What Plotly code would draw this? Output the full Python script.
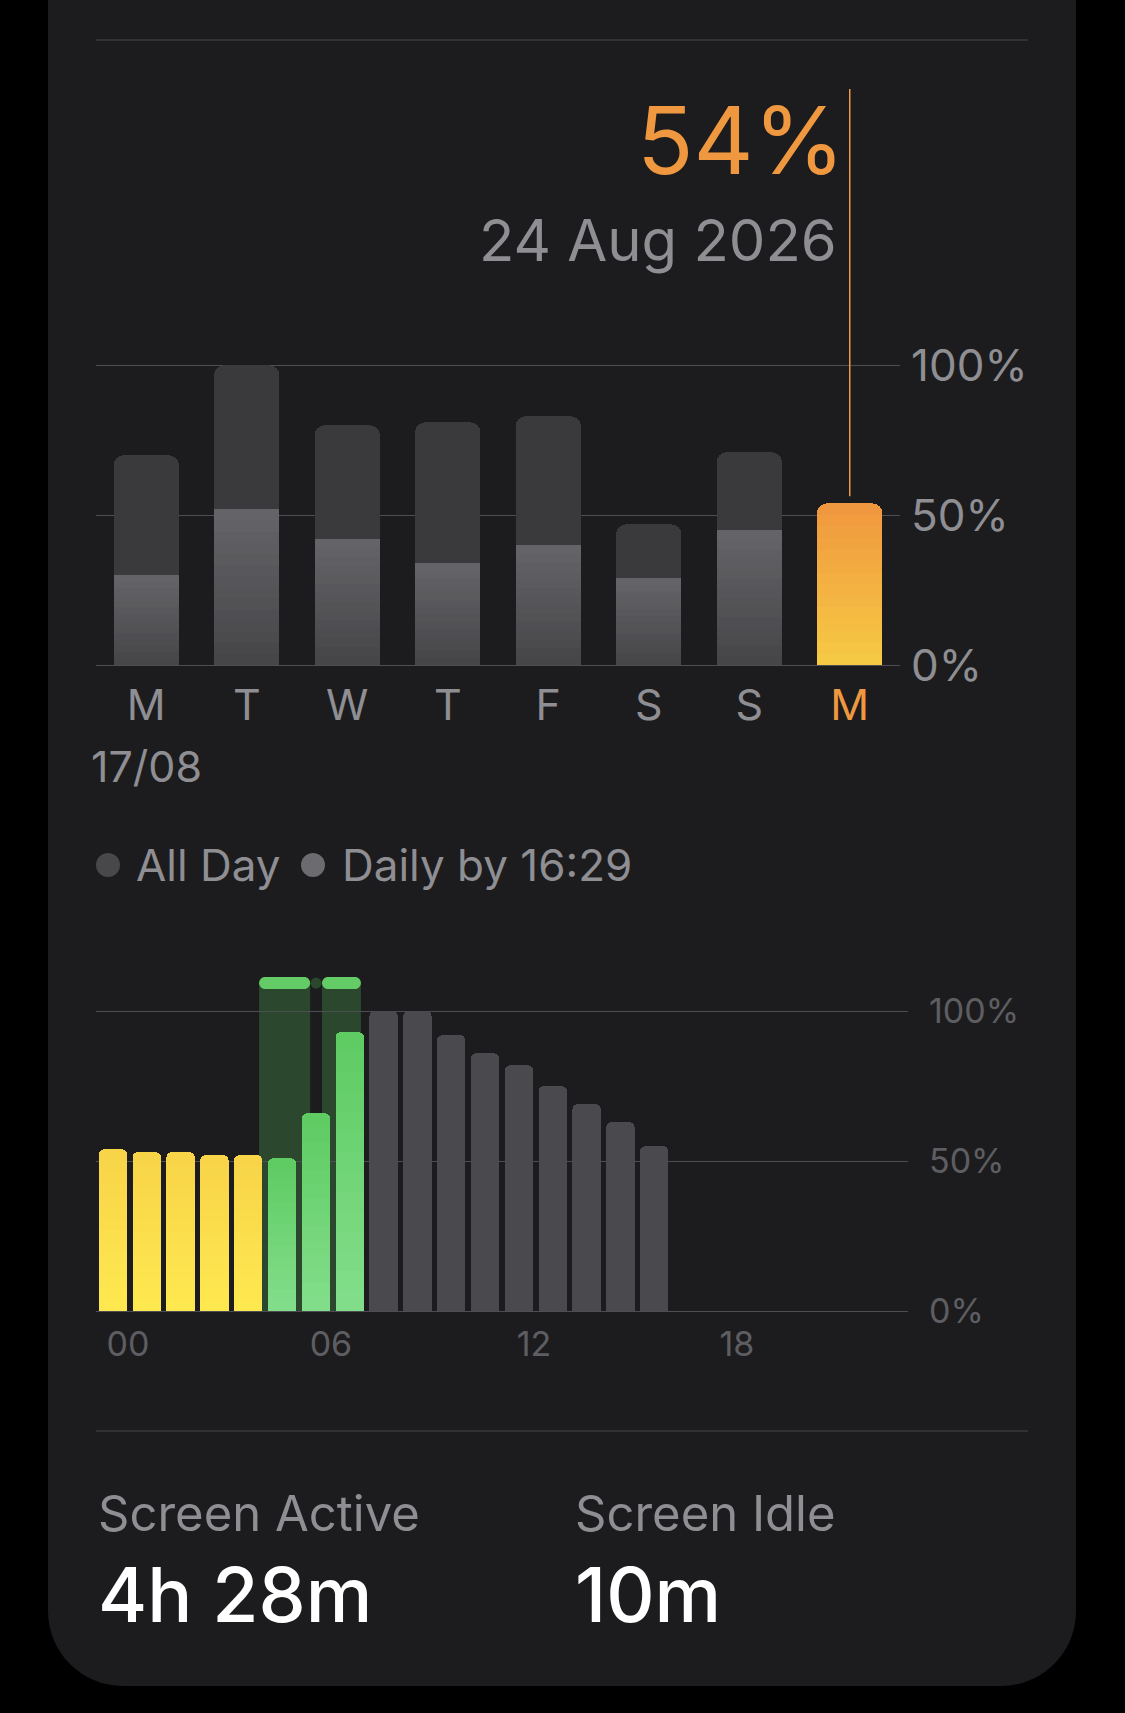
import plotly.graph_objects as go

W, H = 1125, 1713

# ---------------- data ----------------
days = ["M", "T", "W", "T", "F", "S", "S", "M"]
all_day = [70, 100, 80, 81, 83, 47, 71, None]
daily_by_now = [30, 52, 42, 34, 40, 29, 45, 54]
week_ticks = [0, 50, 100]
week_tick_labels = ["0%", "50%", "100%"]
first_date = "17/08"
selected_value = "54%"
selected_date = "24 Aug 2026"
selected_index = 7

hours = list(range(24))
hourly_level = [54, 53, 53, 52, 52, 51, 66, 93, 100, 100, 92, 86, 82, 75, 69, 63, 55] + [None] * 7
hour_state = ["low"] * 5 + ["charging"] * 3 + ["normal"] * 9 + [None] * 7
charge_start = [4.32, 6.18]
charge_end = [5.83, 7.33]
hour_ticks = [0, 6, 12, 18]
hour_tick_labels = ["00", "06", "12", "18"]

legend_labels = ["All Day", "Daily by 16:29"]
stat_labels = ["Screen Active", "Screen Idle"]
stat_values = ["4h 28m", "10m"]

# ---------------- style ----------------
FONT = "Inter"
CARD = "#1c1c1e"
GRID = "#4e4e52"
SEP = "#38383a"
LABEL = "#8e8e93"
DIM = "#5e5e62"
ORANGE = "#f0983f"
BACK_BAR = "#3a3a3c"
# (top colour, bottom colour) gradients
FRONT_GRAD = ((100, 100, 104), (70, 70, 73))
TODAY_GRAD = ((240, 152, 63), (246, 201, 68))
STATE_GRAD = {
    "low": ((248, 212, 72), (254, 232, 80)),
    "charging": ((95, 204, 99), (130, 221, 138)),
    "normal": ((74, 74, 78), (74, 74, 78)),
    None: ((0, 0, 0), (0, 0, 0)),
}
CHARGE_BG = "#2b472e"
CHARGE_CAP = "#63cc67"
CAP_LEVEL = 109.4
LAYERS = 14


def X(px):
    return px / W


def Y(py):
    return 1 - py / H


def mix(c0, c1, t):
    return "rgb({},{},{})".format(*[round(a + (b - a) * t) for a, b in zip(c0, c1)])


T_LEFT, T_RIGHT = 96, 900
T_ZERO, T_PPU = 665.3, 3.0
T_RANGE = [-2, 102]
T_BOTTOM = T_ZERO - T_RANGE[0] * T_PPU
T_TOP = T_ZERO - T_RANGE[1] * T_PPU

B_LEFT, B_RIGHT = 96, 908
B_ZERO, B_PPU = 1311.3, 3.0
B_RANGE = [-2, 113]
B_BOTTOM = B_ZERO - B_RANGE[0] * B_PPU
B_TOP = B_ZERO - B_RANGE[1] * B_PPU
B_SLOT = (B_RIGHT - B_LEFT) / 24.0

fig = go.Figure()

idx = list(range(len(days)))
fig.add_trace(go.Bar(x=idx, y=all_day, marker=dict(color=BACK_BAR, cornerradius=10, line=dict(width=0)),
                     width=0.65, name=legend_labels[0], xaxis="x", yaxis="y", showlegend=False,
                     hoverinfo="skip"))


def gradient_bars(xs, values, grads, width, radius, xa, ya, name):
    # tallest layer carries the top colour; shorter layers drawn over it shade toward the bottom colour
    for k in range(LAYERS):
        frac = (LAYERS - k) / LAYERS
        t = k / (LAYERS - 1)
        ys = [None if v is None else v * frac for v in values]
        cols = [mix(g[0], g[1], t) for g in grads]
        fig.add_trace(go.Bar(x=xs, y=ys, marker=dict(color=cols, cornerradius=radius, line=dict(width=0)),
                             width=width, name=name, xaxis=xa, yaxis=ya, showlegend=False,
                             hoverinfo="skip"))


front_grads = [TODAY_GRAD if i == selected_index else FRONT_GRAD for i in idx]
gradient_bars(idx, daily_by_now, front_grads, 0.65, 10, "x", "y", legend_labels[1])
gradient_bars(hours, hourly_level, [STATE_GRAD[s] for s in hour_state], 0.84, 5, "x2", "y2", "Battery")


def rounded_rect(x0, x1, y0, y1, rx, ry):
    k = 0.5523
    return (f"M {x0+rx},{y0} L {x1-rx},{y0} "
            f"C {x1-rx+k*rx},{y0} {x1},{y0+ry-k*ry} {x1},{y0+ry} "
            f"L {x1},{y1-ry} C {x1},{y1-ry+k*ry} {x1-rx+k*rx},{y1} {x1-rx},{y1} "
            f"L {x0+rx},{y1} C {x0+rx-k*rx},{y1} {x0},{y1-ry+k*ry} {x0},{y1-ry} "
            f"L {x0},{y0+ry} C {x0},{y0+ry-k*ry} {x0+rx-k*rx},{y0} {x0+rx},{y0} Z")


shapes = []
x0c, x1c, ytop, yb, r = 48, 1076, 0, 1686, 75
k = 0.5523 * r
card_path = (f"M {X(x0c)},{Y(ytop)} L {X(x1c)},{Y(ytop)} L {X(x1c)},{Y(yb-r)} "
             f"C {X(x1c)},{Y(yb-r+k)} {X(x1c-r+k)},{Y(yb)} {X(x1c-r)},{Y(yb)} "
             f"L {X(x0c+r)},{Y(yb)} C {X(x0c+r-k)},{Y(yb)} {X(x0c)},{Y(yb-r+k)} {X(x0c)},{Y(yb-r)} Z")
shapes.append(dict(type="path", xref="paper", yref="paper", path=card_path,
                   fillcolor=CARD, line=dict(width=0), layer="below"))
for yy in (40, 1431):
    shapes.append(dict(type="line", xref="paper", yref="paper", x0=X(96), x1=X(1028), y0=Y(yy), y1=Y(yy),
                       line=dict(color=SEP, width=1.5), layer="below"))

sel_v = daily_by_now[selected_index]
sel_paper = Y(T_ZERO - sel_v * T_PPU - 7)
shapes.append(dict(type="line", xref="x", yref="paper", x0=selected_index, x1=selected_index,
                   y0=sel_paper, y1=Y(89), line=dict(color=ORANGE, width=1.5), layer="above"))

rx = 6.0 / B_SLOT
ry = 6.0 / B_PPU
for s, e in zip(charge_start, charge_end):
    shapes.append(dict(type="rect", xref="x2", yref="y2", x0=s, x1=e, y0=0, y1=CAP_LEVEL,
                       fillcolor=CHARGE_BG, line=dict(width=0), layer="below"))
    shapes.append(dict(type="path", xref="x2", yref="y2",
                       path=rounded_rect(s, e, CAP_LEVEL - ry, CAP_LEVEL + ry, rx, ry),
                       fillcolor=CHARGE_CAP, line=dict(width=0), layer="above"))
for i in range(len(charge_start) - 1):
    mid = (charge_end[i] + charge_start[i + 1]) / 2
    drx = 5.5 / B_SLOT
    dry = 5.5 / B_PPU
    shapes.append(dict(type="circle", xref="x2", yref="y2", x0=mid - drx, x1=mid + drx,
                       y0=CAP_LEVEL - dry, y1=CAP_LEVEL + dry, fillcolor=CHARGE_BG,
                       line=dict(width=0), layer="above"))

for cx, col in ((108, "#48484a"), (313, "#6b6b70")):
    rr = 12
    shapes.append(dict(type="circle", xref="paper", yref="paper", x0=X(cx - rr), x1=X(cx + rr),
                       y0=Y(865 + rr), y1=Y(865 - rr), fillcolor=col, line=dict(width=0)))

annotations = []


def ann(text, x, y, size, color, xanchor="left", weight=400, xref="paper", xshift=0):
    annotations.append(dict(text=text, x=x, y=Y(y), xref=xref, yref="paper", showarrow=False,
                            xanchor=xanchor, yanchor="middle", xshift=xshift,
                            font=dict(family=FONT, size=size, color=color, weight=weight)))


ann(selected_value, selected_index, 140.5, 93, ORANGE, xanchor="right", xref="x", xshift=-3)
ann(selected_date, selected_index, 240, 58, LABEL, xanchor="right", xref="x", xshift=-11)
ann(first_date, 0, 765.5, 43, LABEL, xanchor="center", xref="x")
ann(legend_labels[0], X(134), 865, 44, LABEL)
ann(legend_labels[1], X(340), 865, 44, LABEL)
ann(stat_labels[0], X(96), 1513, 49, LABEL)
ann(stat_labels[1], X(573), 1513, 49, LABEL)
ann(stat_values[0], X(96), 1594, 75, "#ffffff", weight=500)
ann(stat_values[1], X(573), 1594, 75, "#ffffff", weight=500)

ticktext_days = [f"<span style='color:{ORANGE}'>{d}</span>" if i == selected_index else d
                 for i, d in enumerate(days)]

fig.update_layout(
    width=W, height=H, margin=dict(l=0, r=0, t=0, b=0, pad=0, autoexpand=False),
    paper_bgcolor="#000000", plot_bgcolor="rgba(0,0,0,0)",
    barmode="overlay", bargap=0, showlegend=False,
    font=dict(family=FONT, color=LABEL),
    shapes=shapes, annotations=annotations,
    xaxis=dict(domain=[X(T_LEFT), X(T_RIGHT)], range=[-0.5, len(days) - 0.5],
               tickvals=idx, ticktext=ticktext_days, showgrid=False, zeroline=False, showline=False,
               ticks="", tickfont=dict(size=43, color=LABEL, family=FONT), ticklabelstandoff=5,
               fixedrange=True, automargin=False),
    yaxis=dict(domain=[Y(T_BOTTOM), Y(T_TOP)], range=T_RANGE, side="right",
               tickvals=week_ticks, ticktext=week_tick_labels, showgrid=True, gridcolor=GRID,
               gridwidth=1.5, zeroline=False, showline=False, ticks="",
               tickfont=dict(size=44, color=LABEL, family=FONT), ticklabelstandoff=10, fixedrange=True,
               automargin=False),
    xaxis2=dict(domain=[X(B_LEFT), X(B_RIGHT)], range=[-0.5, 23.5], anchor="y2",
                tickvals=hour_ticks, ticktext=hour_tick_labels, showgrid=False, zeroline=False,
                showline=False, ticks="", tickfont=dict(size=34, color=DIM, family=FONT),
                ticklabelstandoff=4, ticklabelshift=15, fixedrange=True, automargin=False),
    yaxis2=dict(domain=[Y(B_BOTTOM), Y(B_TOP)], range=B_RANGE, side="right", anchor="x2",
                tickvals=week_ticks, ticktext=week_tick_labels, showgrid=True, gridcolor=GRID,
                gridwidth=1.5, zeroline=False, showline=False, ticks="",
                tickfont=dict(size=34, color=DIM, family=FONT), ticklabelstandoff=20, fixedrange=True,
                automargin=False),
)

fig.write_html("out.html", config={"displayModeBar": False, "staticPlot": True},
               post_script="document.documentElement.style.margin='0';document.body.style.margin='0';"
                           "document.documentElement.style.background='#000';document.body.style.background='#000';")
